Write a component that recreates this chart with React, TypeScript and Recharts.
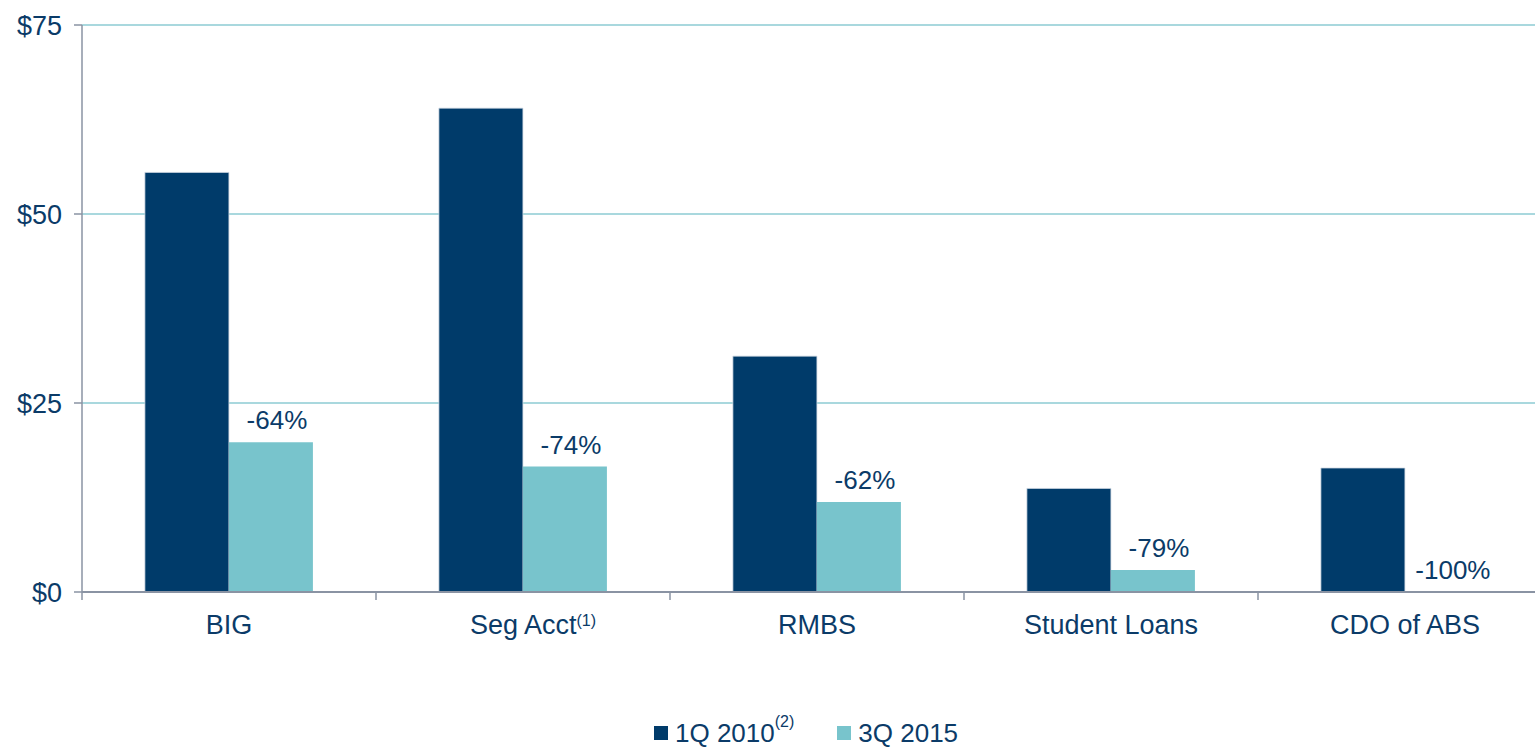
import React from 'react';
import { BarChart, Bar, XAxis, YAxis, CartesianGrid, Legend, LabelList } from 'recharts';

const categories = ['BIG', 'Seg Acct', 'RMBS', 'Student Loans', 'CDO of ABS'];
const categoryNotes = ['', '(1)', '', '', ''];
const values2010 = [55.5, 64.0, 31.2, 13.7, 16.4];
const values2015 = [19.8, 16.6, 11.9, 2.9, 0];
const changeLabels = ['-64%', '-74%', '-62%', '-79%', '-100%'];
const yTicks = [0, 25, 50, 75];
const seriesNames = ['1Q 2010', '3Q 2015'];
const seriesNotes = ['(2)', ''];

const NAVY = '#003b6a';
const TEAL = '#78c4cc';
const TEXT = '#0b3b68';
const AXIS = '#8a93a3';
const GRID = '#a9d8de';
const FONT = '"Liberation Sans", Arial, sans-serif';

const data = categories.map((c, i) => ({
  name: c,
  v2010: values2010[i],
  v2015: values2015[i],
  change: changeLabels[i],
}));

const TICK_SIZE = 8;
const TICK_MARGIN = 15;

const XTick = (props: any) => {
  const { x, y, payload, index, visibleTicksCount } = props;
  const half = payload && payload.offset ? payload.offset : 147;
  const axisY = y - TICK_SIZE - TICK_MARGIN;
  const note = categoryNotes[index] || '';
  const shift = note ? 10 : 0;
  const isLast = index === (visibleTicksCount ?? categories.length) - 1;
  return (
    <g>
      <line x1={x - half} x2={x - half} y1={axisY} y2={axisY + TICK_SIZE} stroke={AXIS} strokeWidth={1.5} />
      {isLast && (
        <line x1={x + half} x2={x + half} y1={axisY} y2={axisY + TICK_SIZE} stroke={AXIS} strokeWidth={1.5} />
      )}
      <text x={x + shift} y={y} dy="0.71em" textAnchor="middle" fill={TEXT} fontSize={27} fontFamily={FONT}>
        <tspan>{payload.value}</tspan>
        {note && (
          <tspan dy={-8} fontSize={16}>
            {note}
          </tspan>
        )}
      </text>
    </g>
  );
};

// Change label drawn above the 3Q 2015 bar, positioned from the 1Q 2010 bar's
// scaled geometry (same linear scale from zero), so it also shows for zero bars.
const ChangeLabel = (props: any) => {
  const { x, y, width, height, index, value } = props;
  const bottom = Number(y) + Number(height);
  const ratio = values2010[index] ? values2015[index] / values2010[index] : 0;
  const lightTop = bottom - Number(height) * ratio;
  const cx = Number(x) + Number(width) * 1.5 + 6;
  return (
    <text x={cx} y={lightTop - 13} textAnchor="middle" fill={TEXT} fontSize={26} fontFamily={FONT}>
      {value}
    </text>
  );
};

const LegendContent = (props: any) => {
  const { payload } = props;
  return (
    <div
      style={{
        display: 'flex',
        alignItems: 'center',
        height: 26,
        lineHeight: '26px',
        fontFamily: FONT,
        fontSize: 26,
        color: TEXT,
        whiteSpace: 'nowrap',
      }}
    >
      {(payload || []).map((item: any, i: number) => {
        const idx = seriesNames.indexOf(item.value);
        const note = idx >= 0 ? seriesNotes[idx] : '';
        return (
          <div key={i} style={{ display: 'flex', alignItems: 'center', marginLeft: i === 0 ? 0 : 43 }}>
            <span style={{ display: 'inline-block', width: 14, height: 14, background: item.color, marginRight: 7 }} />
            <span>
              {item.value}
              {note && (
                <sup style={{ fontSize: 16, lineHeight: '16px', verticalAlign: 'top', position: 'relative', top: -6 }}>{note}</sup>
              )}
            </span>
          </div>
        );
      })}
    </div>
  );
};

export default function App() {
  return (
    <div
      style={{
        position: 'absolute',
        left: 0,
        top: 0,
        width: 1535,
        height: 747,
        overflow: 'hidden',
        background: '#ffffff',
      }}
    >
      <BarChart
        width={1552}
        height={747}
        data={data}
        margin={{ top: 25, right: 0, left: 0, bottom: 0 }}
        barCategoryGap="21.4%"
        barGap={0}
      >
        <CartesianGrid vertical={false} stroke={GRID} strokeWidth={1.8} />
        <XAxis
          dataKey="name"
          height={129}
          interval={0}
          tickLine={false}
          tickSize={TICK_SIZE}
          tickMargin={TICK_MARGIN}
          axisLine={{ stroke: AXIS, strokeWidth: 2 }}
          tick={<XTick />}
        />
        <YAxis
          width={82}
          domain={[0, 75]}
          ticks={yTicks}
          interval={0}
          tickSize={TICK_SIZE}
          tickMargin={12}
          tickFormatter={(v: number) => `$${v}`}
          axisLine={{ stroke: AXIS, strokeWidth: 1.5 }}
          tickLine={{ stroke: AXIS, strokeWidth: 1.5 }}
          tick={{ fill: TEXT, fontSize: 27, fontFamily: FONT }}
        />
        <Legend
          verticalAlign="bottom"
          content={<LegendContent />}
          wrapperStyle={{ left: 654, top: 720, width: 'auto' }}
        />
        <Bar dataKey="v2010" name={seriesNames[0]} fill={NAVY} stroke="#cdd7e2" strokeWidth={0.75} isAnimationActive={false}>
          <LabelList dataKey="change" content={<ChangeLabel />} />
        </Bar>
        <Bar dataKey="v2015" name={seriesNames[1]} fill={TEAL} isAnimationActive={false} />
      </BarChart>
    </div>
  );
}
